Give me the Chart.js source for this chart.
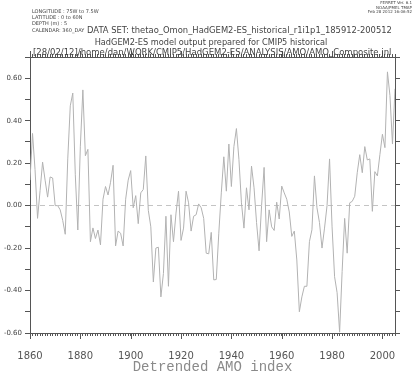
<!DOCTYPE html>
<html>
<head>
<meta charset="utf-8">
<script src="https://cdn.jsdelivr.net/npm/chart.js@4.4.1/dist/chart.umd.min.js"></script>
<style>
  body { margin: 0; background: #fff; }
  #wrap { position: relative; width: 419px; height: 374px; }
  .hdr { position: absolute; white-space: nowrap; font-family: "DejaVu Sans", sans-serif; color: #444; line-height: 1; }
  .meta { left: 32px; font-size: 5px; }
  .stamp { right: 7px; font-size: 4px; text-align: right; }
</style>
</head>
<body>
<div id="wrap">
  <canvas id="amoChart" width="419" height="374"></canvas>
  <div class="hdr meta" style="top:9px">LONGITUDE : 75W to 7.5W</div>
  <div class="hdr meta" style="top:15px">LATITUDE : 0 to 60N</div>
  <div class="hdr meta" style="top:21px">DEPTH (m) : 5</div>
  <div class="hdr meta" style="top:28px">CALENDAR: 360_DAY</div>
  <div class="hdr stamp" style="top:1px">FERRET Ver. 6.1</div>
  <div class="hdr stamp" style="top:5.5px">NOAA/PMEL TMAP</div>
  <div class="hdr stamp" style="top:10px">Feb 28 2012 16:06:52</div>
  <div class="hdr" style="top:26px; left:87px; font-size:8.4px">DATA SET: thetao_Omon_HadGEM2-ES_historical_r1i1p1_185912-200512</div>
  <div class="hdr" style="top:38px; left:211px; transform:translateX(-50%); font-size:8.2px">HadGEM2-ES model output prepared for CMIP5 historical</div>
  <div class="hdr" style="top:48px; left:33px; font-size:8.5px">[28/02/12]/home/dan/WORK/CMIP5/HadGEM2-ES/ANALYSIS/AMO/AMO_Composite.jnl</div>
</div>
<script>
// detrended AMO index, one value per year from 1860
const firstYear = 1860;
const amo = [
  0.12, 0.34, 0.17, -0.06, 0.07, 0.205, 0.12, 0.04, 0.135, 0.13,
  0.0, 0.0, -0.02, -0.07, -0.135, 0.22, 0.47, 0.53, 0.145, -0.115,
  0.28, 0.545, 0.235, 0.265, -0.17, -0.105, -0.155, -0.115, -0.185, 0.03,
  0.09, 0.05, 0.11, 0.19, -0.19, -0.12, -0.13, -0.19, 0.03, 0.12,
  0.165, -0.01, 0.047, -0.085, 0.06, 0.076, 0.234, -0.022, -0.10, -0.36,
  -0.20, -0.196, -0.43, -0.32, -0.05, -0.38, -0.043, -0.17, -0.035, 0.068,
  -0.164, -0.106, 0.068, 0.013, -0.12, -0.05, -0.043, 0.008, -0.01, -0.06,
  -0.224, -0.227, -0.126, -0.35, -0.348, -0.13, 0.06, 0.23, 0.068, 0.29,
  0.09, 0.278, 0.363, 0.218, 0.013, -0.106, 0.084, -0.02, 0.186, 0.084,
  -0.08, -0.213, 0.0, 0.18, -0.17, -0.02, -0.10, -0.117, 0.016, -0.063,
  0.092, 0.06, 0.03, -0.03, -0.145, -0.12, -0.256, -0.50, -0.43, -0.38,
  -0.38, -0.17, -0.114, 0.14, -0.01, -0.08, -0.20, -0.106, 0.0, 0.22,
  -0.10, -0.335, -0.41, -0.596, -0.31, -0.06, -0.224, 0.013, 0.02, 0.044,
  0.155, 0.24, 0.155, 0.278, 0.215, 0.22, -0.027, 0.16, 0.14, 0.24,
  0.336, 0.273, 0.63, 0.518, 0.29, 0.55
];
const years = amo.map((_, i) => firstYear + i);
const xLabelYears = [1860, 1880, 1900, 1920, 1940, 1960, 1980, 2000];
const yMin = -0.6;
const yMax = 0.7;
const xTitle = "Detrended AMO index";

const axisColor = "#555";

// longer tick marks at the labelled years, top and bottom
const majorTicks = {
  id: "majorTicks",
  afterDraw(chart) {
    const { ctx, chartArea, scales } = chart;
    ctx.save();
    ctx.strokeStyle = axisColor;
    ctx.lineWidth = 1;
    ctx.beginPath();
    xLabelYears.forEach((yr) => {
      const px = Math.round(scales.x.getPixelForValue(yr)) + 0.5;
      ctx.moveTo(px, chartArea.bottom);
      ctx.lineTo(px, chartArea.bottom + 6);
      ctx.moveTo(px, chartArea.top);
      ctx.lineTo(px, chartArea.top - 6);
    });
    ctx.stroke();
    ctx.restore();
  },
};

const ctx = document.getElementById("amoChart").getContext("2d");

new Chart(ctx, {
  type: "line",
  data: {
    datasets: [
      {
        data: years.map((yr, i) => ({ x: yr, y: amo[i] })),
        xAxisID: "x",
        yAxisID: "y",
        borderColor: "#b2b2b2",
        borderWidth: 1,
        pointRadius: 0,
        tension: 0,
        fill: false,
      },
    ],
  },
  options: {
    responsive: false,
    animation: false,
    layout: { padding: 0 },
    plugins: {
      legend: { display: false },
      tooltip: { enabled: false },
    },
    scales: {
      x: {
        type: "linear",
        position: "bottom",
        min: firstYear,
        max: years[years.length - 1],
        afterFit: (s) => { s.height = 41; },
        ticks: {
          stepSize: 1,
          autoSkip: false,
          maxRotation: 0,
          padding: 14,
          color: "#555",
          font: { family: "DejaVu Sans", size: 10 },
          callback: (v) => (xLabelYears.includes(v) ? String(v) : ""),
        },
        grid: { drawOnChartArea: false, tickLength: 3, color: axisColor },
        border: { color: axisColor, width: 1 },
        title: {
          display: true,
          text: xTitle,
          color: "#8a8a8a",
          font: { family: "Liberation Mono", size: 14, lineHeight: 1 },
          padding: { top: 0, bottom: 0 },
        },
      },
      x2: {
        type: "linear",
        position: "top",
        min: firstYear,
        max: years[years.length - 1],
        afterFit: (s) => { s.height = 57; },
        ticks: { display: false, stepSize: 1, autoSkip: false },
        grid: { drawOnChartArea: false, tickLength: 3, color: axisColor },
        border: { color: axisColor, width: 1 },
      },
      y: {
        position: "left",
        min: yMin,
        max: yMax,
        afterFit: (s) => { s.width = 30; },
        ticks: {
          stepSize: 0.1,
          autoSkip: false,
          padding: 3,
          color: "#444",
          font: { family: "DejaVu Sans", size: 7 },
          callback: (v) => (Math.round(v * 10) % 2 === 0 ? v.toFixed(2) : ""),
        },
        grid: {
          drawOnChartArea: true,
          tickLength: 5,
          tickColor: axisColor,
          color: (c) => (c.tick && Math.abs(c.tick.value) < 1e-9 ? "#c4c4c4" : "rgba(0,0,0,0)"),
        },
        border: { color: axisColor, width: 1, dash: [5, 4] },
      },
      y2: {
        position: "right",
        min: yMin,
        max: yMax,
        afterFit: (s) => { s.width = 24; },
        ticks: { display: false, stepSize: 0.1 },
        grid: { drawOnChartArea: false, tickLength: 5, color: axisColor },
        border: { color: axisColor, width: 1 },
      },
    },
  },
  plugins: [majorTicks],
});
</script>
</body>
</html>
